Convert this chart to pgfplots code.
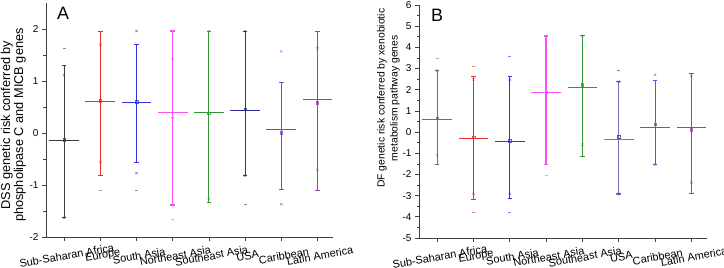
\documentclass[border=0pt]{standalone}
\usepackage{pgfplots}
\pgfplotsset{compat=1.18}
\usepackage{fontspec}
\setmainfont{Liberation Sans}
\definecolor{cSSA}{RGB}{60,60,60}
\definecolor{cSSAb}{RGB}{110,110,110}
\definecolor{cEU}{RGB}{230,45,45}
\definecolor{cSA}{RGB}{50,50,230}
\definecolor{cNE}{RGB}{250,80,250}
\definecolor{cSE}{RGB}{50,150,50}
\definecolor{cUS}{RGB}{45,45,150}
\definecolor{cUSb}{RGB}{115,115,185}
\definecolor{cCA}{RGB}{140,60,220}
\definecolor{cLA}{RGB}{150,70,170}
\pgfplotsset{
  panel/.style={
    scale only axis,
    axis lines=left,
    axis line style={-, black!75, line width=0.8bp},
    tick style={black!75, line width=0.7bp},
    tick align=outside,
    major tick length=4bp,
    minor tick length=2.5bp,
    minor y tick num=1,
    xmin=0.5, xmax=8.43,
    xtick={1,...,8},
    xticklabels={Sub-Saharan Africa,Europe,South Asia,Northeast Asia,Southeast Asia,USA,Caribbean,Latin America},
    x tick label style={font=\fontsize{11}{12}\selectfont, rotate=10, anchor=center, yshift=-15bp},
    y tick label style={font=\fontsize{10}{11}\selectfont},
    /pgf/number format/assume math mode=true,
    clip=false,
  },
  wh/.style={line width=0.9bp, mark=-, mark size=2.3bp, mark options={solid}},
  mn/.style={line width=1.1bp},
  sq/.style={only marks, mark=square, mark size=1.3bp, line width=0.5bp, opacity=0.8},
  ci/.style={only marks, mark=o, mark size=1.4bp, line width=0.5bp, opacity=0.8},
  xm/.style={only marks, mark=x, mark size=1.6bp, line width=0.5bp, opacity=0.7},
  dm/.style={only marks, mark=-, mark size=1.5bp, line width=0.5bp, opacity=0.6},
}
\begin{document}
\begin{tikzpicture}
\path[use as bounding box] (0,0) rectangle (724bp,268bp);
% ---------------- Panel A ----------------
\begin{axis}[panel,
  at={(46bp,31bp)}, anchor=south west,
  width=287bp, height=234bp,
  ymin=-2, ymax=2.5,
  ytick={-2,-1,0,1,2},
]
% Sub-Saharan Africa
\addplot[cSSA, wh] coordinates {(1,-1.63) (1,1.30)};
\addplot[cSSA, mn] coordinates {(0.59,-0.14) (1.41,-0.14)};
\addplot[cSSA, sq] coordinates {(1,-0.13)};
\addplot[cSSA, xm] coordinates {(1,1.11) (1,-1.63)};
\addplot[cSSA, dm] coordinates {(1,1.63)};
% Europe
\addplot[cEU, wh] coordinates {(2,-0.81) (2,1.96)};
\addplot[cEU, mn] coordinates {(1.59,0.61) (2.41,0.61)};
\addplot[cEU, sq] coordinates {(2,0.62)};
\addplot[cEU, xm] coordinates {(2,1.70) (2,-0.56)};
\addplot[cEU, dm] coordinates {(2,-1.10) (2,1.96)};
% South Asia
\addplot[cSA, wh] coordinates {(3,-0.56) (3,1.70)};
\addplot[cSA, mn] coordinates {(2.59,0.59) (3.41,0.59)};
\addplot[cSA, sq] coordinates {(3,0.60)};
\addplot[cSA, xm] coordinates {(3,1.96) (3,-0.77)};
\addplot[cSA, dm] coordinates {(3,-1.10)};
% Northeast Asia
\addplot[cNE, wh, line width=1.5bp] coordinates {(4,-1.38) (4,1.96)};
\addplot[cNE, mn, line width=1.5bp] coordinates {(3.59,0.39) (4.41,0.39)};
\addplot[cNE, ci] coordinates {(4,0.29)};
\addplot[cNE, xm] coordinates {(4,1.42) (4,-1.38)};
\addplot[cNE, dm] coordinates {(4,-1.66)};
% Southeast Asia
\addplot[cSE, wh] coordinates {(5,-1.33) (5,1.96)};
\addplot[cSE, mn] coordinates {(4.59,0.39) (5.41,0.39)};
\addplot[cSE, sq] coordinates {(5,0.38)};
\addplot[cSE, xm] coordinates {(5,-1.26) (5,1.96)};
% USA
\addplot[cUS, wh] coordinates {(6,-0.82) (6,1.96)};
\addplot[cUS, mn] coordinates {(5.59,0.44) (6.41,0.44)};
\addplot[cUS, sq] coordinates {(6,0.46)};
\addplot[cUS, xm] coordinates {(6,1.96) (6,-0.82)};
\addplot[cUS, dm] coordinates {(6,-1.37)};
% Caribbean
\addplot[cCA, wh] coordinates {(7,-1.08) (7,0.98)};
\addplot[cCA, mn] coordinates {(6.59,0.07) (7.41,0.07)};
\addplot[cCA, sq] coordinates {(7,0.00)};
\addplot[cCA, xm] coordinates {(7,1.57) (7,-1.37)};
% Latin America
\addplot[cLA, wh] coordinates {(8,-1.11) (8,1.96)};
\addplot[cLA, mn] coordinates {(7.59,0.65) (8.41,0.65)};
\addplot[cLA, sq] coordinates {(8,0.58)};
\addplot[cLA, xm] coordinates {(8,1.63) (8,-0.71)};
\node[font=\fontsize{18}{18}\selectfont, anchor=center] at ([xshift=17bp,yshift=-10.5bp]rel axis cs:0,1) {A};
\node[font=\fontsize{12.8}{13}\selectfont, align=center, anchor=east, rotate=90, inner sep=0pt]
  at (axis description cs:-0.114,0.893) {DSS genetic risk conferred by\\phospholipase C and MICB genes};
\end{axis}
% ---------------- Panel B ----------------
\begin{axis}[panel,
  at={(419bp,30bp)}, anchor=south west,
  width=288bp, height=233bp,
  ymin=-5, ymax=6,
  ytick={-5,-4,...,6},
]
% Sub-Saharan Africa
\addplot[cSSAb, wh] coordinates {(1,-1.53) (1,2.90)};
\addplot[cSSAb, mn] coordinates {(0.59,0.58) (1.41,0.58)};
\addplot[cSSAb, sq] coordinates {(1,0.65)};
\addplot[cSSAb, xm] coordinates {(1,-1.08) (1,2.90)};
\addplot[cSSAb, dm] coordinates {(1,3.48)};
% Europe
\addplot[cEU, wh] coordinates {(2,-3.20) (2,2.62)};
\addplot[cEU, mn] coordinates {(1.59,-0.32) (2.41,-0.32)};
\addplot[cEU, sq] coordinates {(2,-0.24)};
\addplot[cEU, xm] coordinates {(2,2.49) (2,-2.92)};
\addplot[cEU, dm] coordinates {(2,3.11) (2,-3.77)};
% South Asia
\addplot[cSA, wh] coordinates {(3,-3.15) (3,2.62)};
\addplot[cSA, mn] coordinates {(2.59,-0.43) (3.41,-0.43)};
\addplot[cSA, sq] coordinates {(3,-0.41)};
\addplot[cSA, xm] coordinates {(3,2.46) (3,-2.92)};
\addplot[cSA, dm] coordinates {(3,3.58) (3,-3.77)};
% Northeast Asia
\addplot[cNE, wh, line width=1.3bp] coordinates {(4,-1.53) (4,4.54)};
\addplot[cNE, mn, line width=1.3bp] coordinates {(3.59,1.88) (4.41,1.88)};
\addplot[cNE, sq] coordinates {(4,1.88)};
\addplot[cNE, dm] coordinates {(4,-2.04)};
% Southeast Asia
\addplot[cSE, wh] coordinates {(5,-1.17) (5,4.54)};
\addplot[cSE, mn] coordinates {(4.59,2.12) (5.41,2.12)};
\addplot[cSE, sq] coordinates {(5,2.24)};
\addplot[cSE, xm] coordinates {(5,-0.59) (5,4.54)};
% USA
\addplot[cUSb, wh, line width=1.2bp] coordinates {(6,-2.92) (6,2.38)};
\addplot[cUSb, mn, line width=1.3bp] coordinates {(5.59,-0.35) (6.41,-0.35)};
\addplot[cUS, sq] coordinates {(6,-0.23)};
\addplot[cUS, xm] coordinates {(6,2.38) (6,-2.92)};
\addplot[cUS, dm] coordinates {(6,2.93)};
% Caribbean
\addplot[cCA, wh] coordinates {(7,-1.53) (7,2.44)};
\addplot[cCA, mn] coordinates {(6.59,0.20) (7.41,0.20)};
\addplot[cCA, sq] coordinates {(7,0.37)};
\addplot[cCA, xm] coordinates {(7,2.71) (7,-1.53)};
% Latin America
\addplot[cLA, wh] coordinates {(8,-2.91) (8,2.77)};
\addplot[cLA, mn] coordinates {(7.59,0.23) (8.41,0.23)};
\addplot[cLA, sq] coordinates {(8,0.10)};
\addplot[cLA, xm] coordinates {(8,2.65) (8,-2.38)};
\node[font=\fontsize{18}{18}\selectfont, anchor=center] at ([xshift=18bp,yshift=-10bp]rel axis cs:0,1) {B};
\node[font=\fontsize{10.4}{13}\selectfont, align=center, anchor=east, rotate=90, inner sep=0pt]
  at (axis description cs:-0.106,0.985) {DF genetic risk conferred by xenobiotic\\metabolism pathway genes};
\end{axis}
\end{tikzpicture}
\end{document}
